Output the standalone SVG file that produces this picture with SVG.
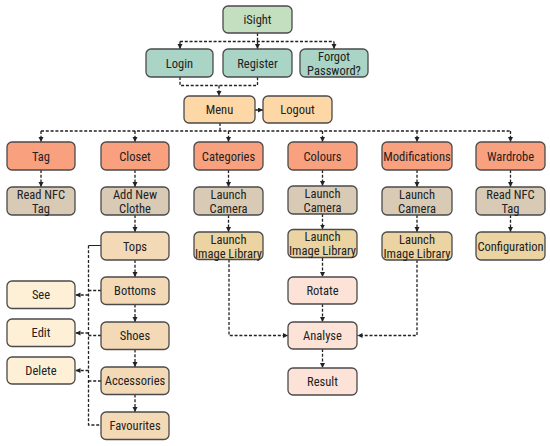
<svg xmlns="http://www.w3.org/2000/svg" width="550" height="446" viewBox="0 0 550 446">
<style>
.n rect{stroke:#4a4a4a;stroke-width:1.3}
.n text{font-family:"Liberation Sans Narrow","Roboto Condensed","Liberation Sans",sans-serif;font-size:12.5px;fill:#222;text-anchor:middle}
.g0 rect{fill:#c4dfc0}
.g1 rect{fill:#a9d4c6}
.g2 rect{fill:#fdd8a6}
.g3 rect{fill:#f9a07f}
.g4 rect{fill:#d9cab6}
.g5 rect{fill:#ebd4a2}
.g6 rect{fill:#f4d9b6}
.g7 rect{fill:#fdf0d7}
.g8 rect{fill:#fde2d7}
#connectors path{fill:none;stroke:#222;stroke-width:1.3;stroke-dasharray:3 1.8}
#connectors path.a{marker-end:url(#ah)}
#connectors path.s{stroke-dasharray:none;stroke-width:1}
</style>
<defs>
<marker id="ah" markerUnits="userSpaceOnUse" markerWidth="6" markerHeight="6" refX="5" refY="2.5" orient="auto">
<path d="M0,0 L5,2.5 L0,5 z" fill="#222"/>
</marker>
</defs>
<rect width="550" height="446" fill="#fff"/>
<g id="connectors">
<path d="M257.5,33 V41.5 M180,41.5 H334"/>
<path class="a" d="M180,41.5 V49"/>
<path class="a" d="M257.5,41.5 V49"/>
<path class="a" d="M334,41.5 V49"/>
<path d="M180,77 V85.5 H257.5 V77"/>
<path class="a" d="M219,85.5 V96"/>
<path class="a" d="M255,110 H263"/>
<path d="M220,123 V131 M41,131 H510.5"/>
<path class="a" d="M41,131 V142"/>
<path class="a" d="M135,131 V142"/>
<path class="a" d="M228.5,131 V142"/>
<path class="a" d="M322.5,131 V142"/>
<path class="a" d="M417,131 V142"/>
<path class="a" d="M510.5,131 V142"/>
<path class="a" d="M41,170 V187"/>
<path class="a" d="M135,170 V187"/>
<path class="a" d="M228.5,170 V187"/>
<path class="a" d="M322.5,170 V186"/>
<path class="a" d="M417,170 V187"/>
<path class="a" d="M510.5,170 V187"/>
<path class="a" d="M135,215 V232"/>
<path class="a" d="M228.5,215 V232"/>
<path class="a" d="M322.5,214 V229.5"/>
<path class="a" d="M417,215 V232"/>
<path class="a" d="M510.5,215 V232"/>
<path class="a" d="M135,260 V277"/>
<path class="a" d="M135,304.5 V322"/>
<path class="a" d="M135,349.5 V367"/>
<path class="a" d="M135,394.5 V412"/>
<path class="s" d="M101,245.5 H88.5"/>
<path d="M88.5,245.5 V425 H101"/>
<path d="M101,290.5 H88.5 M101,335.5 H88.5 M101,381 H88.5"/>
<path class="a" d="M88.5,295 H75.5"/>
<path class="a" d="M88.5,333 H75.5"/>
<path class="a" d="M88.5,370.5 H75.5"/>
<path class="a" d="M322.5,258 V277"/>
<path class="a" d="M322.5,304 V322"/>
<path class="a" d="M322.5,349 V368"/>
<path class="a" d="M229,259.5 V335.5 H288"/>
<path class="a" d="M417,260 V335.5 H357.5"/>
</g>
<g id="isight" class="n g0"><rect x="223" y="6" width="69" height="27" rx="5"/><text x="257.5" y="24">iSight</text></g>
<g id="login" class="n g1"><rect x="146" y="49" width="67" height="28" rx="5"/><text x="179.5" y="67.5">Login</text></g>
<g id="register" class="n g1"><rect x="223" y="49" width="69" height="28" rx="5"/><text x="257.5" y="67.5">Register</text></g>
<g id="forgot" class="n g1"><rect x="300" y="49" width="68" height="28" rx="5"/><text x="334" y="61">Forgot</text><text x="334" y="75">Password?</text></g>
<g id="menu" class="n g2"><rect x="184" y="96" width="71" height="27" rx="5"/><text x="219.5" y="114">Menu</text></g>
<g id="logout" class="n g2"><rect x="263" y="96" width="69" height="27" rx="5"/><text x="297.5" y="114">Logout</text></g>
<g id="tag" class="n g3"><rect x="7" y="142" width="68" height="28" rx="5"/><text x="41" y="160.5">Tag</text></g>
<g id="closet" class="n g3"><rect x="101" y="142" width="68" height="28" rx="5"/><text x="135" y="160.5">Closet</text></g>
<g id="categories" class="n g3"><rect x="194" y="142" width="69" height="28" rx="5"/><text x="228.5" y="160.5">Categories</text></g>
<g id="colours" class="n g3"><rect x="288" y="142" width="69" height="28" rx="5"/><text x="322.5" y="160.5">Colours</text></g>
<g id="modifications" class="n g3"><rect x="382" y="142" width="70" height="28" rx="5"/><text x="417" y="160.5">Modifications</text></g>
<g id="wardrobe" class="n g3"><rect x="476" y="142" width="69" height="28" rx="5"/><text x="510.5" y="160.5">Wardrobe</text></g>
<g id="tag-nfc" class="n g4"><rect x="7" y="187" width="68" height="28" rx="5"/><text x="41" y="199">Read NFC</text><text x="41" y="213">Tag</text></g>
<g id="add-clothe" class="n g4"><rect x="101" y="187" width="68" height="28" rx="5"/><text x="135" y="199">Add New</text><text x="135" y="213">Clothe</text></g>
<g id="cat-camera" class="n g4"><rect x="194" y="187" width="69" height="28" rx="5"/><text x="228.5" y="199">Launch</text><text x="228.5" y="213">Camera</text></g>
<g id="col-camera" class="n g4"><rect x="288" y="186" width="69" height="28" rx="5"/><text x="322.5" y="198">Launch</text><text x="322.5" y="212">Camera</text></g>
<g id="mod-camera" class="n g4"><rect x="382" y="187" width="70" height="28" rx="5"/><text x="417" y="199">Launch</text><text x="417" y="213">Camera</text></g>
<g id="ward-nfc" class="n g4"><rect x="476" y="187" width="69" height="28" rx="5"/><text x="510.5" y="199">Read NFC</text><text x="510.5" y="213">Tag</text></g>
<g id="tops" class="n g6"><rect x="101" y="232" width="68" height="28" rx="5"/><text x="135" y="250.5">Tops</text></g>
<g id="cat-library" class="n g5"><rect x="194" y="232" width="69" height="27.5" rx="5"/><text x="228.5" y="243.5">Launch</text><text x="228.5" y="257.5">Image Library</text></g>
<g id="col-library" class="n g5"><rect x="288" y="229.5" width="69" height="28" rx="5"/><text x="322.5" y="241">Launch</text><text x="322.5" y="255">Image Library</text></g>
<g id="mod-library" class="n g5"><rect x="382" y="232" width="70" height="28" rx="5"/><text x="417" y="243.5">Launch</text><text x="417" y="257.5">Image Library</text></g>
<g id="configuration" class="n g5"><rect x="476" y="232" width="69" height="28" rx="5"/><text x="510.5" y="250.5">Configuration</text></g>
<g id="bottoms" class="n g6"><rect x="101" y="277" width="68" height="27.5" rx="5"/><text x="135" y="295">Bottoms</text></g>
<g id="shoes" class="n g6"><rect x="101" y="322" width="68" height="27.5" rx="5"/><text x="135" y="340">Shoes</text></g>
<g id="accessories" class="n g6"><rect x="101" y="367" width="68" height="27.5" rx="5"/><text x="135" y="385">Accessories</text></g>
<g id="favourites" class="n g6"><rect x="101" y="412" width="68" height="27.5" rx="5"/><text x="135" y="430">Favourites</text></g>
<g id="see" class="n g7"><rect x="7" y="281" width="68" height="27.5" rx="5"/><text x="41" y="299">See</text></g>
<g id="edit" class="n g7"><rect x="7" y="319" width="68" height="27.5" rx="5"/><text x="41" y="337">Edit</text></g>
<g id="delete" class="n g7"><rect x="7" y="357" width="68" height="27" rx="5"/><text x="41" y="374.5">Delete</text></g>
<g id="rotate" class="n g8"><rect x="288" y="277" width="69" height="27" rx="5"/><text x="322.5" y="295">Rotate</text></g>
<g id="analyse" class="n g8"><rect x="288" y="322" width="69" height="27" rx="5"/><text x="322.5" y="340">Analyse</text></g>
<g id="result" class="n g8"><rect x="288" y="368" width="69" height="27" rx="5"/><text x="322.5" y="386">Result</text></g>
</svg>
